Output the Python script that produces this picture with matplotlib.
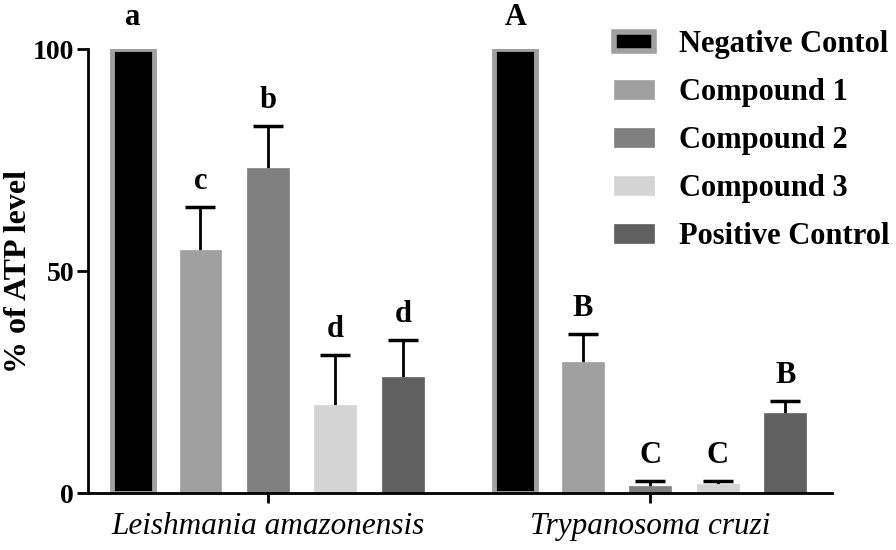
import numpy as np
import matplotlib
matplotlib.use('Agg')
import matplotlib.pyplot as plt
from matplotlib.patches import Patch

groups = ['Leishmania amazonensis', 'Trypanosoma cruzi']
series = ['Negative Contol', 'Compound 1', 'Compound 2', 'Compound 3', 'Positive Control']
colors = ['#000000', '#a0a0a0', '#808080', '#d4d4d4', '#606060']

leish_mean = [100, 54.7, 73.2, 19.8, 26.1]
leish_err = [0, 9.7, 9.5, 11.3, 8.4]
leish_letters = ['a', 'c', 'b', 'd', 'd']

cruzi_mean = [100, 29.5, 1.6, 2.0, 18.0]
cruzi_err = [0, 6.3, 1.1, 0.7, 2.7]
cruzi_letters = ['A', 'B', 'C', 'C', 'B']

plt.rcParams['font.family'] = ['Liberation Serif', 'DejaVu Serif']
plt.rcParams['font.weight'] = 'bold'

fig = plt.figure(figsize=(8.96, 5.5), dpi=100)
ax = fig.add_axes([0.0982, 0.1036, 0.8304, 0.8073])

width = 0.62
group_start = [0, 5.667]
for g, (means, errs, letters) in enumerate([(leish_mean, leish_err, leish_letters),
                                              (cruzi_mean, cruzi_err, cruzi_letters)]):
    x = group_start[g] + np.arange(len(series))
    for i in range(len(series)):
        edge = '#a0a0a0' if i == 0 else colors[i]
        ax.bar(x[i], means[i], width=width, color=colors[i], edgecolor=edge,
               linewidth=3.5 if i == 0 else 0.5, zorder=2)
        if errs[i] > 0:
            eb = ax.errorbar(x[i], means[i], yerr=[[0], [errs[i]]], fmt='none',
                             ecolor='black', elinewidth=2, capsize=11, capthick=2.5, zorder=1)
            eb[1][0].set_visible(False)
        gap = 2.5 if errs[i] > 0 else 3.8
        ax.text(x[i], means[i] + errs[i] + gap, letters[i], ha='center', va='bottom',
                fontsize=22, fontweight='bold')

ax.set_xlim(-0.667, 10.36)
ax.set_ylim(0, 100)
ax.spines['top'].set_visible(False)
ax.spines['right'].set_visible(False)
ax.spines['left'].set_linewidth(2)
ax.spines['bottom'].set_linewidth(2)
ax.set_yticks([0, 50, 100])
ax.tick_params(axis='y', width=2, length=8, labelsize=20, pad=2)
ax.set_xticks([group_start[0] + 2, group_start[1] + 2])
ax.set_xticklabels(groups, fontsize=22.5, fontstyle='italic', fontweight='normal')
ax.tick_params(axis='x', width=2, length=7, pad=7)
ax.set_ylabel('% of ATP level', fontsize=23, fontweight='bold', labelpad=0)
for lab in ax.get_yticklabels():
    lab.set_fontweight('bold')

handles = []
for i in range(len(series)):
    edge = '#a0a0a0' if i == 0 else colors[i]
    handles.append(Patch(facecolor=colors[i], edgecolor=edge, linewidth=4 if i == 0 else 0.5))
leg = fig.legend(handles, series, loc='upper left', bbox_to_anchor=(0.655, 0.995),
                 frameon=False, prop={'family': 'Liberation Serif', 'weight': 'bold', 'size': 22},
                 handlelength=1.3, handleheight=0.6, labelspacing=0.62, handletextpad=0.8)

fig.savefig('out.png', dpi=100)
